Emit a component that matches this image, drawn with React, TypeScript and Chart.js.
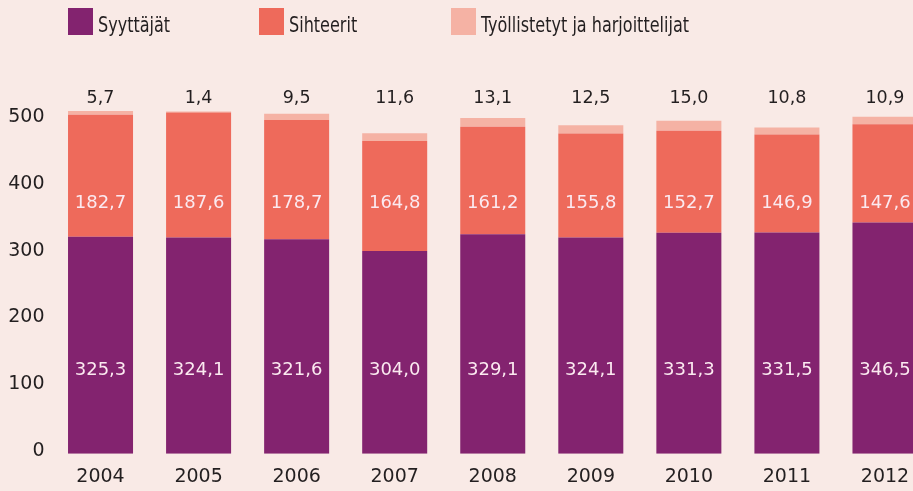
import React, { useEffect, useRef } from "react";
import { Chart, registerables } from "chart.js";

Chart.register(...registerables);

const YEARS = ["2004", "2005", "2006", "2007", "2008", "2009", "2010", "2011", "2012"];
const SYYTTAJAT = [325.3, 324.1, 321.6, 304.0, 329.1, 324.1, 331.3, 331.5, 346.5];
const SIHTEERIT = [182.7, 187.6, 178.7, 164.8, 161.2, 155.8, 152.7, 146.9, 147.6];
const TYOLLISTETYT = [5.7, 1.4, 9.5, 11.6, 13.1, 12.5, 15.0, 10.8, 10.9];
const SERIES_NAMES = ["Syyttäjät", "Sihteerit", "Työllistetyt ja harjoittelijat"];
const Y_TICKS = [0, 100, 200, 300, 400, 500];

const BG = "#f9eae6";
const COLORS = ["#83236f", "#ee6a5b", "#f5b2a4"];
const DARK = "#231f20";
const LIGHT = "#fbe9f0";
const NUM_FONT = "'DejaVu Sans', sans-serif";
const LEGEND_FONT = "'DejaVu Sans Condensed', 'DejaVu Sans', sans-serif";

// value-axis levels where the value labels of each series sit
const LABEL_LEVELS = [125.5, 376, 533];
const LEGEND_X = [68, 259, 451];

const fmt = (v: number) => v.toFixed(1).replace(".", ",");

const valueLabels = {
  id: "valueLabels",
  afterDatasetsDraw(chart: any) {
    const ctx = chart.ctx;
    const yScale = chart.scales.y;
    chart.data.datasets.forEach((ds: any, di: number) => {
      const meta = chart.getDatasetMeta(di);
      meta.data.forEach((bar: any, i: number) => {
        ctx.save();
        ctx.font = `${di === 2 ? 17.5 : 18}px ${NUM_FONT}`;
        ctx.fillStyle = di === 2 ? DARK : LIGHT;
        ctx.textAlign = "center";
        ctx.textBaseline = "middle";
        ctx.fillText(fmt(ds.data[i]), bar.x, yScale.getPixelForValue(LABEL_LEVELS[di]));
        ctx.restore();
      });
    });
  },
};

const legendPlugin = {
  id: "customLegend",
  afterDraw(chart: any) {
    const ctx = chart.ctx;
    chart.data.datasets.forEach((ds: any, di: number) => {
      const x = LEGEND_X[di];
      ctx.save();
      ctx.fillStyle = ds.backgroundColor;
      ctx.fillRect(x, 8, 25, 27);
      ctx.translate(x + 30, 31.5);
      ctx.scale(0.87, 1);
      ctx.font = `20.5px ${LEGEND_FONT}`;
      ctx.fillStyle = DARK;
      ctx.textAlign = "left";
      ctx.textBaseline = "alphabetic";
      ctx.fillText(ds.label, 0, 0);
      ctx.restore();
    });
  },
};

export default function App() {
  const ref = useRef<HTMLCanvasElement | null>(null);

  useEffect(() => {
    if (!ref.current) return;
    const chart = new Chart(ref.current, {
      type: "bar",
      data: {
        labels: YEARS,
        datasets: [
          { label: SERIES_NAMES[0], data: SYYTTAJAT, backgroundColor: COLORS[0] },
          { label: SERIES_NAMES[1], data: SIHTEERIT, backgroundColor: COLORS[1] },
          { label: SERIES_NAMES[2], data: TYOLLISTETYT, backgroundColor: COLORS[2] },
        ],
      },
      options: {
        responsive: false,
        animation: false,
        devicePixelRatio: 1,
        layout: { padding: { top: 53.5, bottom: 0, left: 0, right: 0 } },
        datasets: { bar: { barPercentage: 0.663, categoryPercentage: 1, borderWidth: 0 } },
        plugins: { legend: { display: false }, tooltip: { enabled: false } },
        scales: {
          x: {
            stacked: true,
            grid: { display: false, drawTicks: false },
            border: { display: false },
            afterFit: (s: any) => {
              s.height = 37.3;
            },
            ticks: { padding: 12.4, color: DARK, font: { family: NUM_FONT, size: 19 } },
          },
          y: {
            stacked: true,
            min: 0,
            max: 600,
            grid: { display: false, drawTicks: false },
            border: { display: false },
            afterBuildTicks: (s: any) => {
              s.ticks = Y_TICKS.map((v) => ({ value: v }));
            },
            afterFit: (s: any) => {
              s.width = 51.5;
            },
            ticks: {
              padding: 7,
              labelOffset: -3,
              color: DARK,
              font: { family: NUM_FONT, size: 19 },
            },
          },
        },
      },
      plugins: [valueLabels, legendPlugin],
    });
    return () => chart.destroy();
  }, []);

  return (
    <div
      style={{
        position: "fixed",
        left: 0,
        top: 0,
        width: 913,
        height: 491,
        overflow: "hidden",
        background: BG,
      }}
    >
      <canvas ref={ref} width={934} height={491} style={{ display: "block" }} />
    </div>
  );
}
